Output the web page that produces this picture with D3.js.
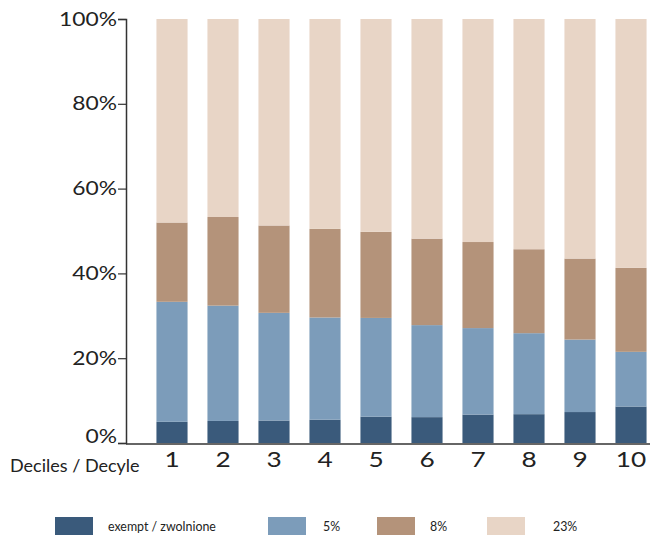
<!DOCTYPE html>
<html>
<head>
<meta charset="utf-8">
<script src="https://cdn.jsdelivr.net/npm/d3@7/dist/d3.min.js"></script>
<style>
  html, body { margin: 0; padding: 0; background: #fff; }
  svg { display: block; font-family: Lato, "Open Sans", sans-serif; }
</style>
</head>
<body>
<svg id="chart" width="650" height="535"></svg>
<script>
// Deciles of household income
const deciles = ["1", "2", "3", "4", "5", "6", "7", "8", "9", "10"];

// Share of spending by VAT rate, percent of total
const exempt = [5.0, 5.2, 5.3, 5.5, 6.2, 6.1, 6.7, 6.8, 7.3, 8.6];
const rate5  = [28.3, 27.2, 25.4, 24.1, 23.3, 21.7, 20.4, 19.1, 17.1, 12.9];
const rate8  = [18.7, 20.9, 20.6, 20.9, 20.3, 20.4, 20.3, 19.8, 19.1, 19.8];
const rate23 = [48.0, 46.7, 48.7, 49.5, 50.2, 51.8, 52.6, 54.3, 56.5, 58.7];

const seriesKeys = ["exempt", "r5", "r8", "r23"];
const seriesLabels = ["exempt / zwolnione", "5%", "8%", "23%"];
const seriesColors = ["#3a5a7b", "#7c9cba", "#b4937a", "#e8d5c6"];
const yTicks = [0, 20, 40, 60, 80, 100];

const rows = deciles.map((d, i) => ({
  decile: d, exempt: exempt[i], r5: rate5[i], r8: rate8[i], r23: rate23[i]
}));

const svg = d3.select("#chart");

const x = d3.scaleBand()
  .domain(deciles)
  .range([146.5, 656.5])
  .paddingInner(0.39)
  .paddingOuter(0.195);

const y = d3.scaleLinear().domain([0, 100]).range([443, 19]);

const stacked = d3.stack().keys(seriesKeys)(rows);
const color = d3.scaleOrdinal().domain(seriesKeys).range(seriesColors);

svg.append("g")
  .selectAll("g")
  .data(stacked)
  .join("g")
  .attr("fill", s => color(s.key))
  .selectAll("rect")
  .data(s => s)
  .join("rect")
  .attr("x", d => x(d.data.decile))
  .attr("width", x.bandwidth())
  .attr("y", d => y(d[1]))
  .attr("height", d => y(d[0]) - y(d[1]));

// Y axis (tick labels set in a slightly wide face; the 0% label sits just above the baseline)
const yAxis = svg.append("g")
  .attr("transform", "translate(126,0)")
  .call(d3.axisLeft(y).tickValues(yTicks).tickFormat(d => d + "%").tickSize(8).tickPadding(1));
yAxis.select(".domain").attr("stroke", "#333").attr("stroke-width", 1.5);
yAxis.selectAll(".tick line").attr("stroke", "#333").attr("stroke-width", 1.2);
yAxis.selectAll(".tick text")
  .attr("x", 0)
  .attr("transform", d => `translate(-9,${d === 0 ? -7 : 0}) scale(1.2,1)`)
  .attr("fill", "#222")
  .style("font-size", "19px")
  .style("font-family", "Lato, sans-serif");

// X axis
const xAxis = svg.append("g")
  .attr("transform", "translate(0,444)")
  .call(d3.axisBottom(x).tickSize(0).tickPadding(8));
xAxis.select(".domain").attr("d", "M126,0H650").attr("stroke", "#333").attr("stroke-width", 1.5);
xAxis.selectAll(".tick text")
  .attr("y", 0)
  .attr("transform", "translate(0,8) scale(1.25,1)")
  .attr("fill", "#222")
  .style("font-size", "21px")
  .style("font-family", "Lato, sans-serif");

svg.append("text")
  .attr("x", 10)
  .attr("y", 472)
  .attr("fill", "#222")
  .style("font-size", "18px")
  .text("Deciles / Decyle");

// Legend
const legendX = [55, 268, 377, 487];
const legend = svg.append("g")
  .selectAll("g")
  .data(seriesKeys)
  .join("g")
  .attr("transform", (d, i) => `translate(${legendX[i]},517)`);
legend.append("rect")
  .attr("width", 38)
  .attr("height", 18)
  .attr("fill", d => color(d));
legend.append("text")
  .attr("x", (d, i) => [53, 55, 53, 66][i])
  .attr("y", 14)
  .attr("fill", "#222")
  .style("font-size", "12.4px")
  .text((d, i) => seriesLabels[i]);
</script>
</body>
</html>
